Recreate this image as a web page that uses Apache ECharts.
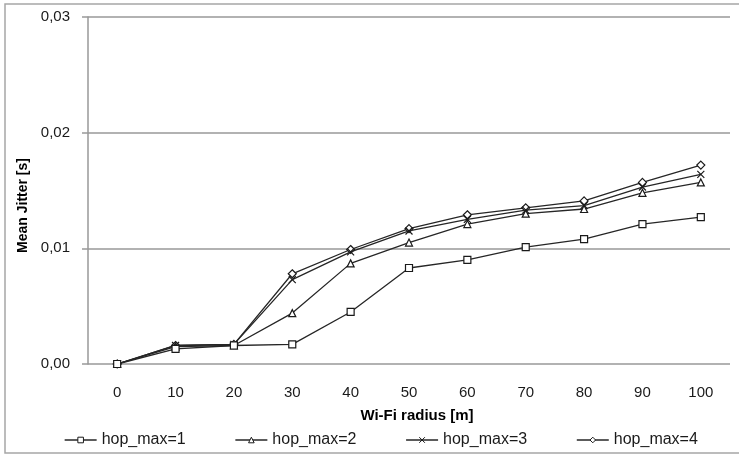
<!DOCTYPE html>
<html>
<head>
<meta charset="utf-8">
<script src="https://cdn.jsdelivr.net/npm/echarts@6/dist/echarts.min.js"></script>
<style>
  html, body { margin: 0; padding: 0; background: #fff; }
  #show { width: 739px; height: 455px; }
</style>
</head>
<body>
<div id="show"></div>
<script>
var myChart = echarts.init(document.getElementById("show"));

// Wi-Fi radius [m]
var radius = ['0', '10', '20', '30', '40', '50', '60', '70', '80', '90', '100'];

// mean jitter [s], one list per hop_max
var hop1 = [0, 0.0013, 0.0016, 0.0017, 0.0045, 0.0083, 0.0090, 0.0101, 0.0108, 0.0121, 0.0127];
var hop2 = [0, 0.0015, 0.0016, 0.0044, 0.0087, 0.0105, 0.0121, 0.0130, 0.0134, 0.0148, 0.0157];
var hop3 = [0, 0.0016, 0.0017, 0.0073, 0.0097, 0.0115, 0.0125, 0.0133, 0.0137, 0.0153, 0.0164];
var hop4 = [0, 0.0016, 0.0017, 0.0078, 0.0099, 0.0117, 0.0129, 0.0135, 0.0141, 0.0157, 0.0172];

var names = ['hop_max=1', 'hop_max=2', 'hop_max=3', 'hop_max=4'];
var symbols = ['rect', 'triangle', 'path://M0,0L10,10M0,10L10,0', 'diamond'];
var sizes = [7, 7, 7, 8];

var font = 'Liberation Sans';

function makeSeries(i, values) {
    return {
        name: names[i],
        type: 'line',
        data: values,
        symbol: symbols[i],
        symbolSize: sizes[i],
        showAllSymbol: true,
        lineStyle: { color: '#262626', width: 1.3 },
        itemStyle: { color: '#fff', borderColor: '#1a1a1a', borderWidth: 1.2 },
        emphasis: { disabled: true },
        z: 10 - i
    };
}

myChart.setOption(option = {
    animation: false,
    textStyle: { fontFamily: font },
    graphic: [
        {
            type: 'rect',
            shape: { x: 5, y: 4, width: 760, height: 449 },
            style: { fill: null, stroke: '#a6a6a6', lineWidth: 1.5 },
            silent: true
        }
    ],
    grid: {
        left: 88,
        right: 9,
        top: 17,
        bottom: 91,
        outerBoundsMode: 'none'
    },
    legend: {
        left: 59,
        top: 427,
        itemWidth: 32,
        itemHeight: 7,
        itemGap: 49,
        itemStyle: { color: '#fff', borderColor: '#1a1a1a', borderWidth: 1 },
        lineStyle: { color: '#262626', width: 1.3 },
        textStyle: { fontFamily: font, fontSize: 16, color: '#1a1a1a', width: 88 },
        data: names
    },
    xAxis: {
        type: 'category',
        data: radius,
        boundaryGap: true,
        name: 'Wi-Fi radius [m]',
        nameLocation: 'middle',
        nameGap: 44,
        nameTextStyle: { fontFamily: font, fontSize: 15, fontWeight: 'bold', color: '#000', padding: [0, 0, 0, 16] },
        axisLine: { show: false },
        axisTick: { show: false },
        axisLabel: { margin: 21, fontSize: 15, color: '#1a1a1a', fontFamily: font, interval: 0 },
        splitLine: { show: false }
    },
    yAxis: {
        type: 'value',
        min: 0,
        max: 0.03,
        interval: 0.01,
        name: 'Mean Jitter [s]',
        nameLocation: 'middle',
        nameGap: 55,
        nameTextStyle: { fontFamily: font, fontSize: 14, fontWeight: 'bold', color: '#000', padding: [0, 30, 0, 0] },
        axisLine: { show: true, lineStyle: { color: '#999', width: 1.5 } },
        axisTick: { show: true, length: 6, lineStyle: { color: '#999', width: 1.5 } },
        axisLabel: {
            margin: 18,
            fontSize: 15,
            color: '#1a1a1a',
            fontFamily: font,
            formatter: function (v) { return v.toFixed(2).replace('.', ','); }
        },
        splitLine: { show: true, lineStyle: { color: '#999', width: 1.5 } }
    },
    series: [
        makeSeries(0, hop1),
        makeSeries(1, hop2),
        makeSeries(2, hop3),
        makeSeries(3, hop4)
    ]
});
</script>
</body>
</html>
